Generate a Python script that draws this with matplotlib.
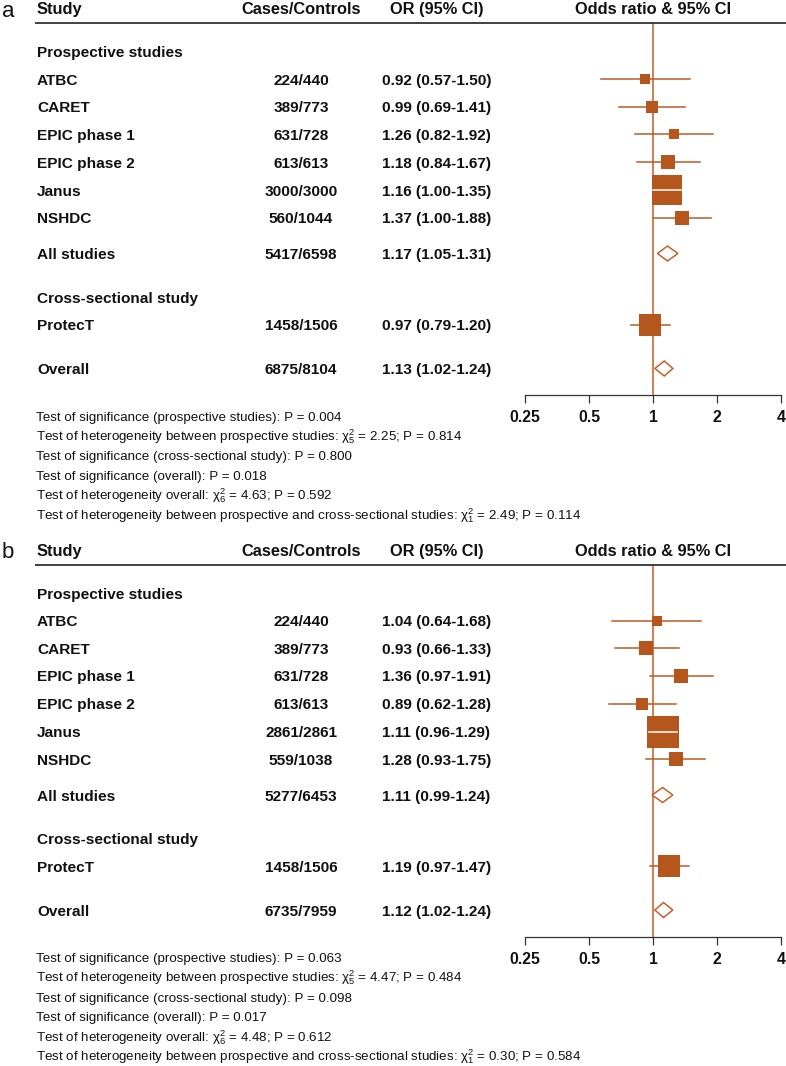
import numpy as np
import matplotlib
matplotlib.use('Agg')
import matplotlib.pyplot as plt
import matplotlib.transforms as mtransforms
from matplotlib.patches import Polygon
from matplotlib.ticker import NullLocator

plt.rcParams['font.family'] = ['Liberation Sans', 'DejaVu Sans']
plt.rcParams['mathtext.fontset'] = 'custom'
plt.rcParams['mathtext.rm'] = 'Liberation Sans'
plt.rcParams['mathtext.it'] = 'Liberation Sans:italic'
plt.rcParams['mathtext.bf'] = 'Liberation Sans:bold'

# ---------------- data ----------------
study_names = ['ATBC', 'CARET', 'EPIC phase 1', 'EPIC phase 2', 'Janus', 'NSHDC']
group_labels = ['Prospective studies', 'Cross-sectional study']
pooled_labels = ['All studies', 'ProtecT', 'Overall']

a_cases = ['224/440', '389/773', '631/728', '613/613', '3000/3000', '560/1044']
a_or = [0.92, 0.99, 1.26, 1.18, 1.16, 1.37]
a_lo = [0.57, 0.69, 0.82, 0.84, 1.00, 1.00]
a_hi = [1.50, 1.41, 1.92, 1.67, 1.35, 1.88]
a_all = ['5417/6598', 1.17, 1.05, 1.31]
a_protect = ['1458/1506', 0.97, 0.79, 1.20]
a_overall = ['6875/8104', 1.13, 1.02, 1.24]
a_notes = [
    'Test of significance (prospective studies): P = 0.004',
    'Test of heterogeneity between prospective studies: $\\mathrm{\\chi}^2_5$ = 2.25; P = 0.814',
    'Test of significance (cross-sectional study): P = 0.800',
    'Test of significance (overall): P = 0.018',
    'Test of heterogeneity overall: $\\mathrm{\\chi}^2_6$ = 4.63; P = 0.592',
    'Test of heterogeneity between prospective and cross-sectional studies: $\\mathrm{\\chi}^2_1$ = 2.49; P = 0.114',
]

b_cases = ['224/440', '389/773', '631/728', '613/613', '2861/2861', '559/1038']
b_or = [1.04, 0.93, 1.36, 0.89, 1.11, 1.28]
b_lo = [0.64, 0.66, 0.97, 0.62, 0.96, 0.93]
b_hi = [1.68, 1.33, 1.91, 1.28, 1.29, 1.75]
b_all = ['5277/6453', 1.11, 0.99, 1.24]
b_protect = ['1458/1506', 1.19, 0.97, 1.47]
b_overall = ['6735/7959', 1.12, 1.02, 1.24]
b_notes = [
    'Test of significance (prospective studies): P = 0.063',
    'Test of heterogeneity between prospective studies: $\\mathrm{\\chi}^2_5$ = 4.47; P = 0.484',
    'Test of significance (cross-sectional study): P = 0.098',
    'Test of significance (overall): P = 0.017',
    'Test of heterogeneity overall: $\\mathrm{\\chi}^2_6$ = 4.48; P = 0.612',
    'Test of heterogeneity between prospective and cross-sectional studies: $\\mathrm{\\chi}^2_1$ = 0.30; P = 0.584',
]

headers = ['Study', 'Cases/Controls', 'OR (95% CI)', 'Odds ratio & 95% CI']
tick_vals = [0.25, 0.5, 1, 2, 4]
tick_labels = ['0.25', '0.5', '1', '2', '4']

# ---------------- layout ----------------
W, H = 786, 1066
fig = plt.figure(figsize=(W / 100, H / 100), dpi=100)
fig.patch.set_facecolor('white')

BOX = '#b5561c'
CI = '#b95d25'
REF = '#c46b36'
DIA = '#c0632b'
DARK = '#333333'
TXT = '#111111'

FS_HEAD = 11.8
FS_ROW = 11.1
FS_NOTE = 9.6
X_STUDY = 37
X_CASES = 301
X_OR = 436.5
AX_L, AX_R = 525, 781
LINE_Y, AXIS_Y = 23, 395
ROWS = {'grp1': 51.5, 0: 79, 1: 106.5, 2: 134, 3: 162, 4: 190, 5: 217.5,
        'all': 253.5, 'grp2': 297, 'protect': 324.5, 'overall': 368.5}
NOTE_Y0, NOTE_DY = 416.0, 19.7


def se_of(lo, hi):
    return (np.log(hi) - np.log(lo)) / (2 * 1.96)


def draw_panel(off, letter, cases, ors, los, his, allp, prot, overall, notes):
    bottom = 1 - (off + AXIS_Y) / H
    height = (AXIS_Y - LINE_Y) / H
    ax = fig.add_axes([AX_L / W, bottom, (AX_R - AX_L) / W, height])
    ax.set_xscale('log', base=2)
    ax.set_xlim(0.25, 4)
    ax.set_ylim(off + AXIS_Y, off + LINE_Y)
    ax.patch.set_alpha(0)
    for s in ['left', 'right', 'top']:
        ax.spines[s].set_visible(False)
    ax.spines['bottom'].set_color(DARK)
    ax.spines['bottom'].set_linewidth(0.9)
    ax.set_yticks([])
    ax.set_xticks(tick_vals)
    ax.set_xticklabels(tick_labels, fontweight='bold', fontsize=11.4, color=TXT)
    ax.xaxis.set_minor_locator(NullLocator())
    ax.tick_params(axis='x', direction='out', length=5.8, width=0.9,
                   color=DARK, pad=5.0)

    blend = mtransforms.blended_transform_factory(fig.transFigure, ax.transData)

    def txt(xpx, ypx, s, ha='left', bold=True, fs=FS_ROW):
        ax.text(xpx / W, ypx + 0.358 * fs * 100 / 72, s, transform=blend,
                ha=ha, va='baseline', fontsize=fs, color=TXT,
                fontweight='bold' if bold else 'normal', clip_on=False)

    # panel letter and headers
    ax.text(2 / W, off + 9 + 0.358 * 16 * 100 / 72, letter, transform=blend,
            ha='left', va='baseline', fontsize=16, color=TXT, clip_on=False)
    hy = off + 8.5
    txt(X_STUDY, hy, headers[0], fs=FS_HEAD)
    txt(X_CASES, hy, headers[1], ha='center', fs=FS_HEAD)
    txt(X_OR, hy, headers[2], ha='center', fs=FS_HEAD)
    txt((AX_L + AX_R) / 2 + 0, hy, headers[3], ha='center', fs=FS_HEAD)
    ax.plot([35 / W, 1.0], [off + LINE_Y, off + LINE_Y], transform=blend,
            color=DARK, lw=1.3, clip_on=False, solid_capstyle='butt')

    ax.axvline(1, color=REF, lw=1.2, zorder=1)

    # box scale: pixel side proportional to 1/se
    px_per_log2 = (AX_R - AX_L) / (np.log2(4) - np.log2(0.25))

    def study_row(y, o, lo, hi):
        side = 2.35 / se_of(lo, hi)
        hw = side / 2 / px_per_log2
        inside = (np.log2(lo) > np.log2(o) - hw) and (np.log2(hi) < np.log2(o) + hw)
        ax.scatter([o], [y], marker='s', s=(side * 0.72) ** 2, color=BOX,
                   linewidths=0, zorder=3)
        if inside:
            ax.plot([lo, hi], [y, y], color='white', lw=1.1, zorder=4)
        else:
            ax.plot([lo, hi], [y, y], color=CI, lw=1.1, zorder=2)

    def diamond(y, o, lo, hi):
        poly = Polygon([(lo, y), (o, y - 7.5), (hi, y), (o, y + 7.5)],
                       closed=True, facecolor='white', edgecolor=DIA, lw=1.1,
                       zorder=3)
        ax.add_patch(poly)

    def fmt(o, lo, hi):
        return f'{o:.2f} ({lo:.2f}-{hi:.2f})'

    txt(X_STUDY, off + ROWS['grp1'], group_labels[0])
    for i in range(len(study_names)):
        y = off + ROWS[i]
        txt(X_STUDY, y, study_names[i])
        txt(X_CASES, y, cases[i], ha='center')
        txt(X_OR, y, fmt(ors[i], los[i], his[i]), ha='center')
        study_row(y, ors[i], los[i], his[i])

    y = off + ROWS['all']
    txt(X_STUDY, y, pooled_labels[0])
    txt(X_CASES, y, allp[0], ha='center')
    txt(X_OR, y, fmt(*allp[1:]), ha='center')
    diamond(y, *allp[1:])

    txt(X_STUDY, off + ROWS['grp2'], group_labels[1])
    y = off + ROWS['protect']
    txt(X_STUDY, y, pooled_labels[1])
    txt(X_CASES, y, prot[0], ha='center')
    txt(X_OR, y, fmt(*prot[1:]), ha='center')
    study_row(y, *prot[1:])

    y = off + ROWS['overall']
    txt(X_STUDY, y, pooled_labels[2])
    txt(X_CASES, y, overall[0], ha='center')
    txt(X_OR, y, fmt(*overall[1:]), ha='center')
    diamond(y, *overall[1:])

    for k, s in enumerate(notes):
        txt(36, off + NOTE_Y0 + k * NOTE_DY, s, bold=False, fs=FS_NOTE)


draw_panel(0, 'a', a_cases, a_or, a_lo, a_hi, a_all, a_protect, a_overall, a_notes)
draw_panel(541.5, 'b', b_cases, b_or, b_lo, b_hi, b_all, b_protect, b_overall, b_notes)

fig.savefig('out.png', dpi=100, facecolor='white')
